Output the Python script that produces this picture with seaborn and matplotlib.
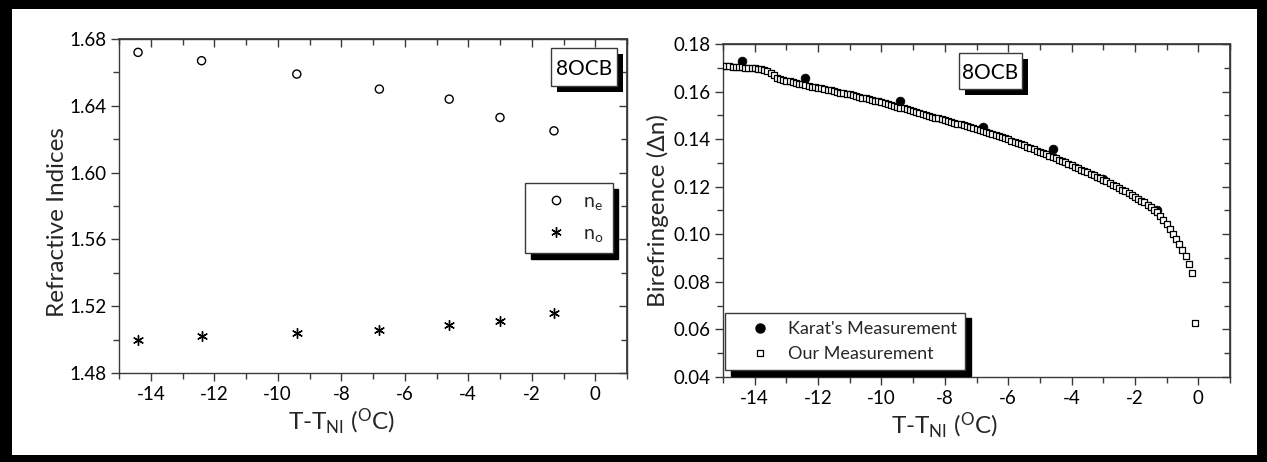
import numpy as np
import pandas as pd
import matplotlib
matplotlib.use("Agg")
import matplotlib.pyplot as plt
from matplotlib.patches import Rectangle
from matplotlib.lines import Line2D
from matplotlib.ticker import MultipleLocator
import seaborn as sns

# ---------------- data ----------------
temp_idx = [-14.4, -12.4, -9.4, -6.8, -4.6, -3.0, -1.3]
n_e = [1.672, 1.667, 1.659, 1.650, 1.644, 1.633, 1.625]
n_o = [1.500, 1.502, 1.504, 1.506, 1.509, 1.511, 1.516]

karat_t = [-14.4, -12.4, -9.4, -6.8, -4.6, -3.0, -1.3]
karat_dn = [0.1727, 0.1657, 0.1560, 0.1451, 0.1360, 0.1232, 0.1100]

our_t = [-15.0, -14.9, -14.8, -14.7, -14.6, -14.5, -14.4, -14.3, -14.2, -14.1,
         -14.0, -13.9, -13.8, -13.7, -13.6, -13.5, -13.4, -13.3, -13.2, -13.1,
         -13.0, -12.9, -12.8, -12.7, -12.6, -12.5, -12.4, -12.3, -12.2, -12.1,
         -12.0, -11.9, -11.8, -11.7, -11.6, -11.5, -11.4, -11.3, -11.2, -11.1,
         -11.0, -10.9, -10.8, -10.7, -10.6, -10.5, -10.4, -10.3, -10.2, -10.1,
         -10.0, -9.9, -9.8, -9.7, -9.6, -9.5, -9.4, -9.3, -9.2, -9.1,
         -9.0, -8.9, -8.8, -8.7, -8.6, -8.5, -8.4, -8.3, -8.2, -8.1,
         -8.0, -7.9, -7.8, -7.7, -7.6, -7.5, -7.4, -7.3, -7.2, -7.1,
         -7.0, -6.9, -6.8, -6.7, -6.6, -6.5, -6.4, -6.3, -6.2, -6.1,
         -6.0, -5.9, -5.8, -5.7, -5.6, -5.5, -5.4, -5.3, -5.2, -5.1,
         -5.0, -4.9, -4.8, -4.7, -4.6, -4.5, -4.4, -4.3, -4.2, -4.1,
         -4.0, -3.9, -3.8, -3.7, -3.6, -3.5, -3.4, -3.3, -3.2, -3.1,
         -3.0, -2.9, -2.8, -2.7, -2.6, -2.5, -2.4, -2.3, -2.2, -2.1,
         -2.0, -1.9, -1.8, -1.7, -1.6, -1.5, -1.4, -1.3, -1.2, -1.1,
         -1.0, -0.9, -0.8, -0.7, -0.6, -0.5, -0.4, -0.3, -0.2, -0.1]
our_dn = [0.1708, 0.1707, 0.1706, 0.1705, 0.1704, 0.1703, 0.1702, 0.1700, 0.1699, 0.1698,
          0.1697, 0.1695, 0.1693, 0.1690, 0.1685, 0.1677, 0.1668, 0.1659, 0.1653, 0.1649,
          0.1646, 0.1643, 0.1640, 0.1637, 0.1633, 0.1630, 0.1627, 0.1624, 0.1621, 0.1619,
          0.1616, 0.1613, 0.1610, 0.1607, 0.1605, 0.1602, 0.1599, 0.1596, 0.1594, 0.1591,
          0.1588, 0.1585, 0.1582, 0.1578, 0.1575, 0.1572, 0.1569, 0.1566, 0.1562, 0.1559,
          0.1556, 0.1552, 0.1548, 0.1545, 0.1541, 0.1537, 0.1533, 0.1529, 0.1525, 0.1521,
          0.1517, 0.1513, 0.1509, 0.1506, 0.1502, 0.1498, 0.1494, 0.1490, 0.1487, 0.1483,
          0.1479, 0.1476, 0.1472, 0.1469, 0.1465, 0.1462, 0.1458, 0.1455, 0.1451, 0.1448,
          0.1444, 0.1440, 0.1435, 0.1431, 0.1426, 0.1422, 0.1417, 0.1413, 0.1408, 0.1404,
          0.1399, 0.1394, 0.1389, 0.1384, 0.1379, 0.1374, 0.1369, 0.1363, 0.1358, 0.1352,
          0.1347, 0.1341, 0.1336, 0.1330, 0.1325, 0.1319, 0.1313, 0.1307, 0.1302, 0.1296,
          0.1290, 0.1284, 0.1278, 0.1272, 0.1266, 0.1260, 0.1254, 0.1248, 0.1242, 0.1236,
          0.1230, 0.1223, 0.1216, 0.1209, 0.1202, 0.1195, 0.1188, 0.1181, 0.1174, 0.1166,
          0.1158, 0.1150, 0.1142, 0.1134, 0.1125, 0.1115, 0.1104, 0.1092, 0.1077, 0.1060,
          0.1042, 0.1023, 0.1003, 0.0982, 0.0960, 0.0934, 0.0908, 0.0875, 0.0836, 0.0626]

x_ticks = [-14, -12, -10, -8, -6, -4, -2, 0]
left_yticks = [1.48, 1.52, 1.56, 1.60, 1.64, 1.68]
right_yticks = [0.04, 0.06, 0.08, 0.10, 0.12, 0.14, 0.16, 0.18]

sample_name = "8OCB"
xlabel_txt = r"T-T$_{\mathregular{NI}}$ ($^{\mathregular{O}}$C)"

# ---------------- style ----------------
sns.set_theme(style="white")
plt.rcParams["font.family"] = ["Lato", "DejaVu Sans"]
plt.rcParams["mathtext.default"] = "regular"
plt.rcParams["axes.unicode_minus"] = False
SPINE = "#3a3a3a"

W, H = 1267, 462
fig = plt.figure(figsize=(W / 100, H / 100), dpi=100)
fig.patch.set_facecolor("white")


def px_axes(l, t, r, b):
    return fig.add_axes([l / W, 1 - b / H, (r - l) / W, (b - t) / H])


axL = px_axes(119, 39, 627, 373)
axR = px_axes(723, 44, 1230, 377)


def style_axes(ax, xlim, ylim, yticks, ymin_step):
    ax.set_xlim(*xlim)
    ax.set_ylim(*ylim)
    ax.set_xticks(x_ticks)
    ax.set_yticks(yticks)
    ax.xaxis.set_minor_locator(MultipleLocator(1))
    ax.yaxis.set_minor_locator(MultipleLocator(ymin_step))
    for s in ax.spines.values():
        s.set_visible(True)
        s.set_color(SPINE)
        s.set_linewidth(1.0)
    ax.tick_params(which="both", direction="out", color=SPINE, width=1.0,
                   labelsize=13.5, labelcolor="black", pad=3,
                   bottom=True, left=True, top=False, right=False)
    ax.tick_params(which="major", length=6)
    ax.tick_params(which="minor", length=4)
    top = ax.secondary_xaxis("top")
    top.set_xticks(x_ticks)
    top.xaxis.set_minor_locator(MultipleLocator(1))
    top.tick_params(which="both", direction="in", color=SPINE, width=1.0, labeltop=False)
    top.tick_params(which="major", length=6)
    top.tick_params(which="minor", length=4)
    top.spines["top"].set_color(SPINE)
    right = ax.secondary_yaxis("right")
    right.set_yticks(yticks)
    right.yaxis.set_minor_locator(MultipleLocator(ymin_step))
    right.tick_params(which="both", direction="in", color=SPINE, width=1.0, labelright=False)
    right.tick_params(which="major", length=6)
    right.tick_params(which="minor", length=4)
    right.spines["right"].set_color(SPINE)
    ax.set_yticklabels([f"{v:.2f}" for v in yticks])


def boxed(ax, box_px, text):
    """Text in a white box with a solid black drop shadow; box given in figure pixels."""
    l, t, r, b = box_px
    inv = ax.transAxes.inverted()

    def to_ax(x, y):
        return inv.transform(fig.transFigure.transform((x / W, 1 - y / H)))

    off = 6
    (sx0, sy0), (sx1, sy1) = to_ax(l + off, b + off), to_ax(r + off, t + off)
    ax.add_patch(Rectangle((sx0, sy0), sx1 - sx0, sy1 - sy0, transform=ax.transAxes,
                           fc="black", ec="none", zorder=6.4, clip_on=False))
    (x0, y0), (x1, y1) = to_ax(l, b), to_ax(r, t)
    ax.add_patch(Rectangle((x0, y0), x1 - x0, y1 - y0, transform=ax.transAxes,
                           fc="white", ec=SPINE, lw=1.0, zorder=6.5, clip_on=False))
    ax.text((x0 + x1) / 2, (y0 + y1) / 2, text, transform=ax.transAxes, ha="center",
            va="center_baseline", fontsize=15, color="black", zorder=7)


# ---------------- left panel ----------------
dfL = pd.DataFrame({"t": temp_idx, "ne": n_e, "no": n_o})
sns.scatterplot(data=dfL, x="t", y="ne", ax=axL, marker="o", s=34,
                facecolor="none", edgecolor="black", linewidth=1.0, zorder=3)
sns.scatterplot(data=dfL, x="t", y="no", ax=axL, marker=(6, 2, 0), s=50,
                edgecolor="black", color="black", linewidth=1.0, zorder=3)
style_axes(axL, (-15, 1), (1.48, 1.68), left_yticks, 0.02)
axL.set_xlabel(xlabel_txt, fontsize=17.5, labelpad=3)
axL.set_ylabel("Refractive Indices", fontsize=17.5, labelpad=1)
axL.xaxis.label.set_x(0.437)
axL.yaxis.label.set_y(0.452)

shadow_kw = {"ox": 4, "oy": -4, "facecolor": "black", "edgecolor": "black", "alpha": 1}
hL = [Line2D([], [], ls="none", marker="o", ms=6, mfc="none", mec="black", mew=1.0),
      Line2D([], [], ls="none", marker=(6, 2, 0), ms=7.5, mec="black", mew=1.0)]
legL = axL.legend(hL, [r"n$_{\mathregular{e}}$", r"n$_{\mathregular{o}}$"],
                  loc="upper right", bbox_to_anchor=(0.972, 0.568),
                  frameon=True, fancybox=False, fontsize=14, labelspacing=0.65,
                  handlelength=2.1, handletextpad=0.35, borderpad=0.5, borderaxespad=0,
                  shadow=shadow_kw)
legL.get_frame().set_edgecolor(SPINE)
legL.get_frame().set_linewidth(1.0)
boxed(axL, (551, 48, 617, 86), sample_name)

# ---------------- right panel ----------------
dfK = pd.DataFrame({"t": karat_t, "dn": karat_dn})
dfO = pd.DataFrame({"t": our_t, "dn": our_dn})
sns.scatterplot(data=dfK, x="t", y="dn", ax=axR, marker="o", s=40,
                color="black", edgecolor="black", linewidth=0.5, zorder=2)
sns.scatterplot(data=dfO, x="t", y="dn", ax=axR, marker="s", s=22,
                facecolor="white", edgecolor="black", linewidth=0.9, zorder=3)
style_axes(axR, (-15, 1), (0.04, 0.18), right_yticks, 0.01)
axR.set_xlabel(xlabel_txt, fontsize=17.5, labelpad=3)
axR.set_ylabel("Birefringence (\u0394n)", fontsize=17.5, labelpad=3)
axR.xaxis.label.set_x(0.437)

hR = [Line2D([], [], ls="none", marker="o", ms=6.5, mfc="black", mec="black"),
      Line2D([], [], ls="none", marker="s", ms=5, mfc="white", mec="black", mew=0.9)]
legR = axR.legend(hR, ["Karat's Measurement", "Our Measurement"],
                  loc="lower left", bbox_to_anchor=(0.004, 0.021),
                  frameon=True, fancybox=False, fontsize=13, labelspacing=0.5,
                  handlelength=3.0, handletextpad=0.05, borderpad=0.45, borderaxespad=0,
                  shadow=shadow_kw)
legR.get_frame().set_edgecolor(SPINE)
legR.get_frame().set_linewidth(1.0)
boxed(axR, (959, 53, 1022, 89), sample_name)

# ---------------- outer black frame ----------------
for (l, t, w, h) in [(0, 0, W, 9), (0, H - 7, W, 7), (0, 0, 12, H), (W - 10, 0, 10, H)]:
    fig.patches.append(Rectangle((l / W, 1 - (t + h) / H), w / W, h / H,
                                 transform=fig.transFigure, fc="black", ec="none", zorder=10))

fig.savefig("out.png", dpi=100, facecolor="white")
